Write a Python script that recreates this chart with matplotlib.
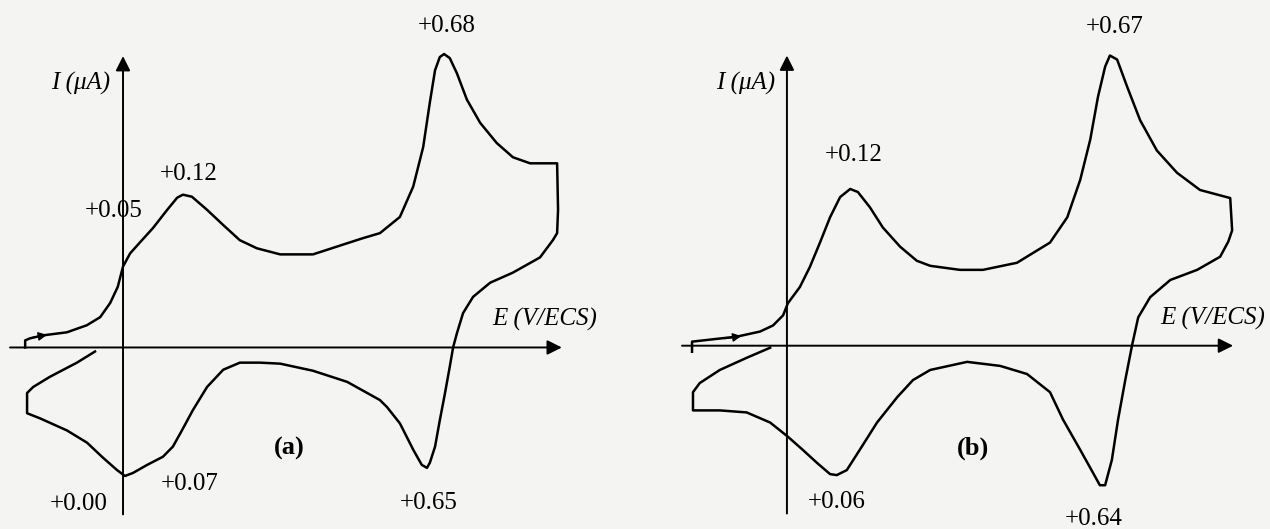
import numpy as np
import matplotlib.pyplot as plt

############################################################
# Cyclic voltammograms (a) and (b)
# E in V/ECS, I in arbitrary uA units (one full scan each)
############################################################

e_a = [-0.206, -0.206, -0.196, -0.168, -0.118, -0.076, -0.048, -0.027, -0.011, 0.000,
       0.015, 0.036, 0.063, 0.093, 0.114, 0.126, 0.145, 0.177, 0.211, 0.246,
       0.282, 0.331, 0.400, 0.472, 0.505, 0.541, 0.583, 0.611, 0.632, 0.646,
       0.657, 0.667, 0.676, 0.688, 0.703, 0.724, 0.752, 0.787, 0.821, 0.857,
       0.914, 0.916, 0.914, 0.905, 0.878, 0.821, 0.773, 0.737, 0.716, 0.703,
       0.695, 0.688, 0.678, 0.667, 0.657, 0.646, 0.640, 0.629, 0.611, 0.583,
       0.556, 0.541, 0.472, 0.400, 0.331, 0.288, 0.246, 0.211, 0.177, 0.147,
       0.124, 0.105, 0.084, 0.051, 0.021, 0.004, -0.013, -0.042, -0.076, -0.118,
       -0.175, -0.202, -0.202, -0.189, -0.154, -0.097, -0.059]
i_a = [0.00, 0.07, 0.09, 0.12, 0.15, 0.22, 0.30, 0.44, 0.60, 0.80,
       0.93, 1.04, 1.18, 1.36, 1.48, 1.51, 1.49, 1.36, 1.21, 1.06,
       0.98, 0.92, 0.92, 1.03, 1.08, 1.13, 1.29, 1.59, 1.98, 2.42,
       2.74, 2.87, 2.90, 2.86, 2.71, 2.45, 2.22, 2.02, 1.88, 1.82,
       1.82, 1.36, 1.13, 1.06, 0.89, 0.74, 0.64, 0.50, 0.34, 0.14,
       0.00, -0.19, -0.45, -0.72, -0.98, -1.14, -1.19, -1.16, -1.01, -0.75,
       -0.59, -0.52, -0.34, -0.23, -0.16, -0.15, -0.15, -0.22, -0.39, -0.62,
       -0.82, -0.98, -1.08, -1.16, -1.24, -1.27, -1.21, -1.09, -0.94, -0.82,
       -0.70, -0.65, -0.45, -0.39, -0.29, -0.15, -0.04]

e_b = [-0.198, -0.198, -0.104, -0.056, -0.029, -0.008, 0.002, 0.027, 0.048, 0.069,
       0.090, 0.111, 0.132, 0.148, 0.173, 0.200, 0.236, 0.271, 0.299, 0.361,
       0.409, 0.480, 0.549, 0.585, 0.612, 0.633, 0.649, 0.664, 0.674, 0.689,
       0.710, 0.737, 0.772, 0.814, 0.862, 0.925, 0.929, 0.921, 0.904, 0.856,
       0.800, 0.758, 0.733, 0.720, 0.706, 0.691, 0.678, 0.664, 0.653, 0.639,
       0.612, 0.576, 0.549, 0.501, 0.445, 0.376, 0.299, 0.263, 0.230, 0.188,
       0.152, 0.125, 0.104, 0.090, 0.063, 0.033, 0.002, -0.035, -0.084, -0.140,
       -0.196, -0.196, -0.182, -0.140, -0.084, -0.035]
i_b = [-0.06, 0.04, 0.09, 0.14, 0.20, 0.30, 0.42, 0.58, 0.78, 1.02,
       1.27, 1.47, 1.55, 1.52, 1.37, 1.17, 0.98, 0.84, 0.79, 0.75,
       0.75, 0.82, 1.02, 1.27, 1.64, 2.04, 2.46, 2.76, 2.87, 2.83,
       2.56, 2.23, 1.93, 1.71, 1.54, 1.46, 1.14, 1.03, 0.88, 0.75,
       0.65, 0.48, 0.28, 0.00, -0.34, -0.73, -1.13, -1.38, -1.38, -1.26,
       -1.03, -0.73, -0.46, -0.28, -0.20, -0.16, -0.24, -0.34, -0.51, -0.76,
       -1.03, -1.23, -1.28, -1.27, -1.16, -1.03, -0.90, -0.76, -0.66, -0.64,
       -0.64, -0.46, -0.37, -0.24, -0.12, -0.02]

labels_a = ['+0.05', '+0.12', '+0.68', '+0.00', '+0.07', '+0.65']
labels_b = ['+0.12', '+0.67', '+0.06', '+0.64']

############################################################
# Plotting

plt.rcParams['font.family'] = ['Liberation Serif', 'DejaVu Serif']
bg = '#f4f4f2'
fs = 18

fig = plt.figure(figsize=(12.7, 5.29), dpi=100, facecolor=bg)
ax_a = fig.add_axes([0, 0, 0.5, 1])
ax_b = fig.add_axes([0.5, 0, 0.5, 1])


def draw_axes(ax, xlim, ylim, x_from, x_to, y_from, y_to):
    ax.set_xlim(*xlim)
    ax.set_ylim(*ylim)
    ax.set_facecolor(bg)
    ax.axis('off')
    arr = dict(arrowstyle='-|>', lw=1.4, color='k', mutation_scale=22,
               shrinkA=0, shrinkB=0)
    ax.annotate('', xy=(x_to, 0), xytext=(x_from, 0), arrowprops=arr)
    ax.annotate('', xy=(0, y_to), xytext=(0, y_from), arrowprops=arr)


def scan_arrow(ax, x0, y0, x1, y1):
    ax.annotate('', xy=(x1, y1), xytext=(x0, y0),
                arrowprops=dict(arrowstyle='-|>', lw=1.0, color='k',
                                mutation_scale=13, shrinkA=0, shrinkB=0))


# (a)
draw_axes(ax_a, (-0.259, 1.078), (-1.794, 3.434), -0.238, 0.924, -1.65, 2.88)
ax_a.plot(e_a, i_a, color='k', lw=1.8, solid_joinstyle='round')
scan_arrow(ax_a, -0.19, 0.10, -0.16, 0.125)
ax_a.text(-0.027, 2.61, 'I (μA)', fontsize=fs, style='italic', ha='right', va='center')
ax_a.text(0.777, 0.28, 'E (V/ECS)', fontsize=fs, style='italic', ha='left', va='center')
ax_a.text(0.349, -1.00, '(a)', fontsize=fs + 1, weight='bold', ha='center', va='center')
pos_a = [(-0.019, 1.35), (0.139, 1.71), (0.682, 3.18),
         (-0.093, -1.55), (0.141, -1.35), (0.644, -1.54)]
for lab, (x, y) in zip(labels_a, pos_a):
    ax_a.text(x, y, lab, fontsize=fs, ha='center', va='center')

# (b)
draw_axes(ax_b, (-0.317, 1.008), (-1.813, 3.419), -0.219, 0.931, -1.66, 2.87)
ax_b.plot(e_b, i_b, color='k', lw=1.8, solid_joinstyle='round')
scan_arrow(ax_b, -0.13, 0.07, -0.095, 0.095)
ax_b.text(-0.025, 2.59, 'I (μA)', fontsize=fs, style='italic', ha='right', va='center')
ax_b.text(0.779, 0.27, 'E (V/ECS)', fontsize=fs, style='italic', ha='left', va='center')
ax_b.text(0.388, -1.01, '(b)', fontsize=fs + 1, weight='bold', ha='center', va='center')
pos_b = [(0.140, 1.89), (0.683, 3.15), (0.104, -1.55), (0.641, -1.71)]
for lab, (x, y) in zip(labels_b, pos_b):
    ax_b.text(x, y, lab, fontsize=fs, ha='center', va='center')

fig.savefig('out.png', dpi=100, facecolor=bg)
